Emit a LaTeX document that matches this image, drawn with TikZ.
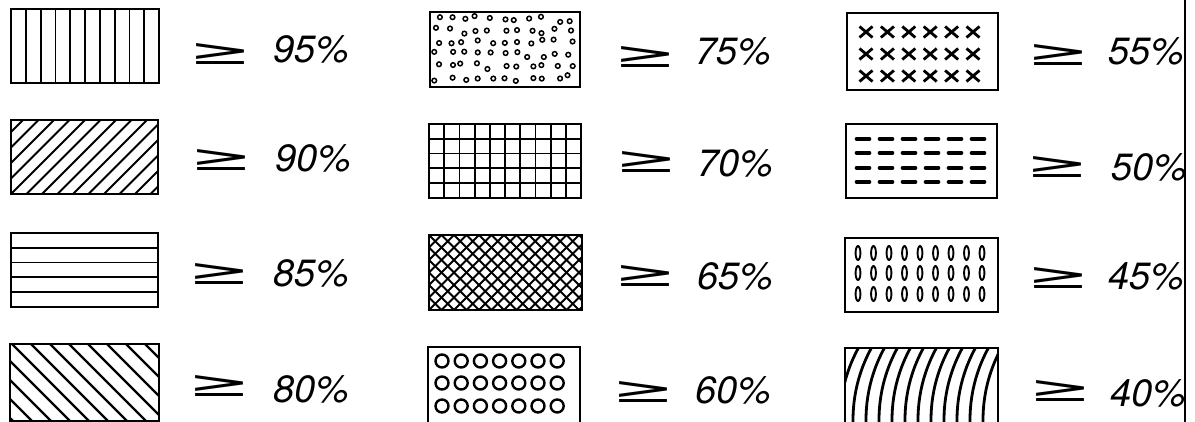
\documentclass[tikz,border=0pt]{standalone}
\usepackage{fontspec}
\newfontfamily\pctfont{TeX Gyre Heros}
\newfontfamily\gefont{DejaVu Sans}
\usepackage{graphicx}
\begin{document}
\begin{tikzpicture}[x=1pt,y=-1pt,
  box/.style={draw, line width=1.8pt, inner sep=0pt, outer sep=0pt, anchor=north west},
  pat/.style={line width=1.8pt},
  thick pat/.style={line width=2.4pt},
  gesym/.style={inner sep=0pt},
  pct/.style={inner sep=0pt, anchor=base west, font={\pctfont\itshape\fontsize{38}{40}\selectfont}}]
\useasboundingbox (0,0) rectangle (1195,422);
\newcommand{\gesign}{\resizebox{64pt}{21pt}{\gefont\fontsize{50}{50}\selectfont ≥}}

% ---------- column 1 ----------
% 95 % : vertical lines
\begin{scope}
\clip (11,9) rectangle (159,83);
\foreach \i in {1,...,9} \draw[pat] ({11+14.8*\i},9) -- ++(0,74);
\end{scope}
\node[box, minimum width=148pt, minimum height=74pt] (b1) at (11,9) {};
% 90 % : diagonal /
\begin{scope}
\clip (11,120) rectangle (158,194);
\foreach \i in {-5,...,10} \draw[pat] ({11+15.5*\i},194) -- ++(74,-74);
\end{scope}
\node[box, minimum width=147pt, minimum height=74pt] (b2) at (11,120) {};
% 85 % : horizontal lines
\begin{scope}
\clip (11,233) rectangle (158,307);
\foreach \i in {1,...,4} \draw[pat] (11,{233+14.8*\i}) -- ++(147,0);
\end{scope}
\node[box, minimum width=147pt, minimum height=74pt] (b3) at (11,233) {};
% 80 % : diagonal \
\begin{scope}
\clip (10,344) rectangle (159,421);
\foreach \i in {-5,...,8} \draw[line width=2.2pt] ({12+19*\i},344) -- ++(77,77);
\end{scope}
\node[box, minimum width=149pt, minimum height=77pt] (b4) at (10,344) {};

% ---------- column 2 ----------
% 75 % : small rings
\begin{scope}
\clip (430,12) rectangle (580,87);
\pgfmathsetseed{17}
\foreach \i in {0,...,10}
  \foreach \j in {0,...,5} {
    \pgfmathsetmacro{\xx}{437+13.3*\i+3.5*rand}
    \pgfmathsetmacro{\yy}{19+11.8*\j+3*rand}
    \draw[line width=1.5pt] (\xx,\yy) circle (2.3);
  }
\end{scope}
\node[box, minimum width=150pt, minimum height=75pt] (b5) at (430,12) {};
% 70 % : grid
\begin{scope}
\clip (429,124) rectangle (581,198);
\foreach \i in {1,...,9} \draw[pat] ({429+15.2*\i},124) -- ++(0,74);
\foreach \i in {1,...,4} \draw[pat] (429,{124+14.8*\i}) -- ++(152,0);
\end{scope}
\node[box, minimum width=152pt, minimum height=74pt] (b6) at (429,124) {};
% 65 % : cross hatch
\begin{scope}
\clip (429,235) rectangle (582,310);
\foreach \i in {-7,...,13} {
  \draw[pat] ({429+12.5*\i},310) -- ++(75,-75);
  \draw[pat] ({429+12.5*\i},235) -- ++(75,75);
}
\end{scope}
\node[box, minimum width=153pt, minimum height=75pt] (b7) at (429,235) {};
% 60 % : circles
\begin{scope}
\clip (428,347) rectangle (580,423);
\foreach \i in {0,...,6}
  \foreach \y in {361,383,406}
    \draw[thick pat] ({442+19.2*\i},\y) circle (6.5);
\end{scope}
\node[box, minimum width=152pt, minimum height=76pt] (b8) at (428,347) {};

% ---------- column 3 ----------
% 55 % : crosses
\foreach \i in {0,...,5}
  \foreach \y in {32,54,76} {
    \draw[line width=2.8pt] ({866+21.4*\i-6.5},\y-5.5) -- ++(13,11);
    \draw[line width=2.8pt] ({866+21.4*\i-6.5},\y+5.5) -- ++(13,-11);
  }
\node[box, minimum width=151pt, minimum height=77pt] (b9) at (847,13) {};
% 50 % : dashes
\foreach \i in {0,...,5}
  \foreach \y in {139,153,168,182}
    \draw[line width=3.6pt, line cap=round] ({863+23*\i-6.5},\y) -- ++(13,0);
\node[box, minimum width=151pt, minimum height=74pt] (b10) at (846,124) {};
% 45 % : vertical ovals
\foreach \i in {0,...,8}
  \foreach \y in {253,273,294}
    \draw[line width=1.9pt] ({858+15.5*\i},\y) ellipse (2.4 and 7);
\node[box, minimum width=153pt, minimum height=74pt] (b11) at (845,238) {};
% 40 % : arcs
\begin{scope}
\clip (845,348) rectangle (998,424);
\foreach \k in {0,...,11} \draw[line width=2.8pt] ({840+13*\k+150},420) circle (150);
\end{scope}
\node[box, minimum width=153pt, minimum height=76pt] (b12) at (845,348) {};

% ---------- signs ----------
\node[gesym] (g1) at (221,54) {\gesign};
\node[gesym] (g2) at (222,160) {\gesign};
\node[gesym] (g3) at (220,274) {\gesign};
\node[gesym] (g4) at (220,386) {\gesign};
\node[gesym] (g5) at (645,57) {\gesign};
\node[gesym] (g6) at (646,162) {\gesign};
\node[gesym] (g7) at (645,276) {\gesign};
\node[gesym] (g8) at (643,392) {\gesign};
\node[gesym] (g9) at (1058,55) {\gesign};
\node[gesym] (g10) at (1057,167) {\gesign};
\node[gesym] (g11) at (1058,278) {\gesign};
\node[gesym] (g12) at (1060,391) {\gesign};

% ---------- percentages ----------
\node[pct] (t1) at (273,63) {95\%};
\node[pct] (t2) at (275,172) {90\%};
\node[pct] (t3) at (273,287) {85\%};
\node[pct] (t4) at (273,402) {80\%};
\node[pct] (t5) at (695,65) {75\%};
\node[pct] (t6) at (697,177) {70\%};
\node[pct] (t7) at (697,290) {65\%};
\node[pct] (t8) at (695,403) {60\%};
\node[pct] (t9) at (1108,65) {55\%};
\node[pct] (t10) at (1111,181) {50\%};
\node[pct] (t11) at (1108,290) {45\%};
\node[pct] (t12) at (1110,406) {40\%};

% right border line
\coordinate (rtop) at (1185,0);
\coordinate (rbot) at (1185,422);
\draw[line width=1.5pt] (rtop) -- (rbot);
\end{tikzpicture}
\end{document}
